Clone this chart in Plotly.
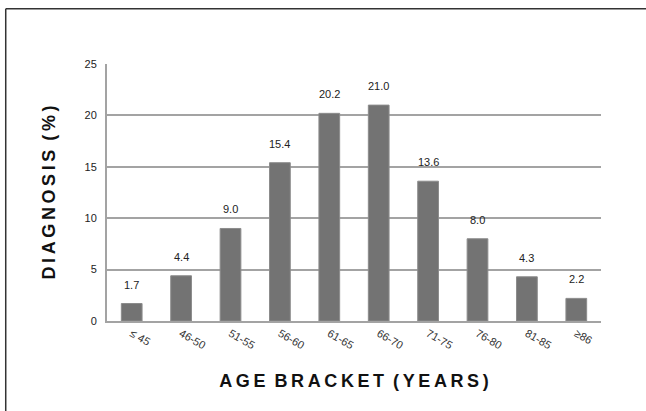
import plotly.graph_objects as go

# age brackets and share of diagnoses (%)
age_brackets = ['≤ 45', '46-50', '51-55', '56-60', '61-65', '66-70', '71-75', '76-80', '81-85', '≥86']
diagnosis_pct = [1.7, 4.4, 9.0, 15.4, 20.2, 21.0, 13.6, 8.0, 4.3, 2.2]
y_ticks = [0, 5, 10, 15, 20, 25]


def spaced(s):
    # wide letter spacing like the original titles
    return '\u2009'.join(s).replace('\u2009 \u2009', '\u2002')


fig = go.Figure()
fig.add_trace(go.Bar(
    x=age_brackets,
    y=diagnosis_pct,
    marker=dict(color='#737373', line=dict(color='#8c8c8c', width=1)),
))

# value labels sit well above each bar, as in the original
for cat, v in zip(age_brackets, diagnosis_pct):
    fig.add_annotation(x=cat, y=v, text=f'{v:.1f}', showarrow=False,
                       yanchor='bottom', yshift=11,
                       font=dict(family='Liberation Sans, Arial', size=11, color='#222222'))

title_font = dict(family='Liberation Sans Narrow, Liberation Sans, Arial', size=18, color='#111111', weight='bold')

fig.update_layout(
    width=646, height=411,
    margin=dict(l=107, r=45, t=64, b=90),
    paper_bgcolor='white', plot_bgcolor='white',
    bargap=0.58,
    showlegend=False,
    font=dict(family='Liberation Sans, Arial', color='#222222'),
    xaxis=dict(
        tickangle=30,
        tickfont=dict(size=11, color='#333333'),
        showline=True, linecolor='#a3a3a3', linewidth=2,
        showgrid=False, ticks='',
        title=dict(text=spaced('AGE BRACKET (YEARS)'), standoff=24, font=title_font),
    ),
    yaxis=dict(
        range=[0, 25], tickvals=y_ticks,
        tickfont=dict(size=11, color='#222222'),
        ticklabelstandoff=6,
        showgrid=True, gridcolor='#a3a3a3', gridwidth=2,
        zeroline=False, showline=True, linecolor='#a3a3a3', linewidth=2,
        ticks='', ticklen=0,
        title=dict(text=spaced('DIAGNOSIS (%)'), standoff=24, font=title_font),
    ),
)

# outer frame: top and left edge of the figure panel
fig.add_shape(type='line', xref='paper', yref='paper',
              x0=-0.205, x1=1.1, y0=1.215, y1=1.215,
              line=dict(color='#333333', width=1.5))
fig.add_shape(type='line', xref='paper', yref='paper',
              x0=-0.205, x1=-0.205, y0=1.215, y1=-0.4,
              line=dict(color='#333333', width=1.5))

fig.write_html('out.html', config={'displayModeBar': False},
               post_script="document.body.style.margin='0';")
